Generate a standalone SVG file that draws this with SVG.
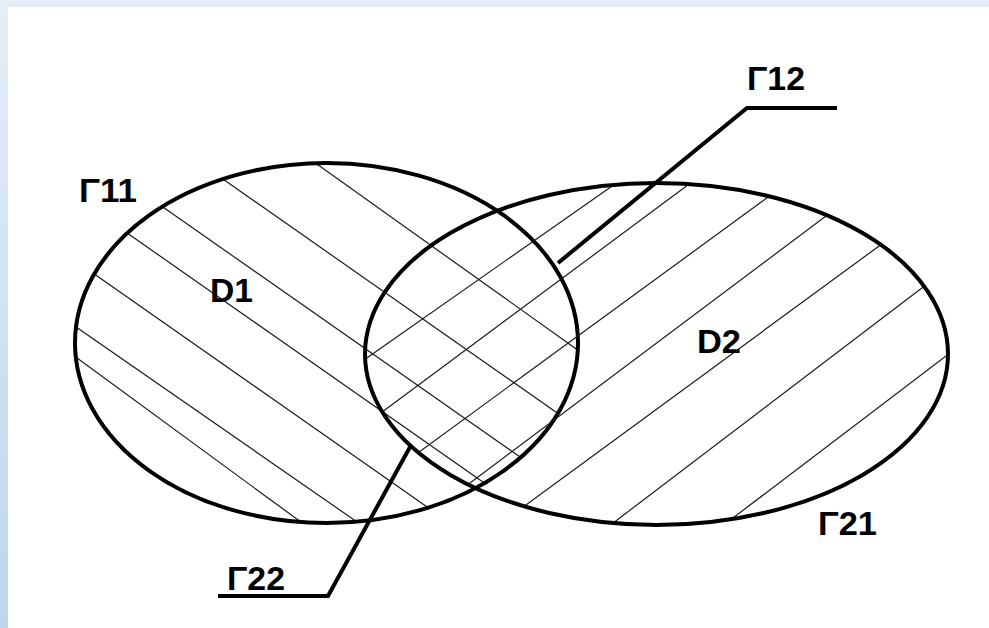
<svg xmlns="http://www.w3.org/2000/svg" width="989" height="628" viewBox="0 0 989 628">
  <defs>
    <linearGradient id="bg" x1="0" y1="0" x2="0" y2="1">
      <stop offset="0" stop-color="#e4eef9"/>
      <stop offset="1" stop-color="#bdd6ee"/>
    </linearGradient>
    <clipPath id="clipL"><ellipse cx="326.5" cy="343" rx="251.5" ry="180"/></clipPath>
    <clipPath id="clipR"><ellipse cx="656.5" cy="354" rx="291.5" ry="171"/></clipPath>
    <style>
      .outline{fill:none;stroke:#000;stroke-width:4}
      .hatch{fill:none;stroke:#1a1a1a;stroke-width:1.2}
      .lead{fill:none;stroke:#000;stroke-width:4;stroke-linejoin:miter}
      .lbl{font-family:"Liberation Sans",Arial,sans-serif;font-weight:bold;font-size:34px;fill:#000}
    </style>
  </defs>
  <rect x="0" y="0" width="989" height="628" fill="url(#bg)"/>
  <rect x="8" y="7" width="981" height="621" fill="#fff"/>

  <g id="D1">
    <g class="hatch" clip-path="url(#clipL)">
      <line x1="300" y1="152" x2="600" y2="366"/>
      <line x1="200" y1="163" x2="580" y2="429"/>
      <line x1="140" y1="191" x2="540" y2="471"/>
      <line x1="100" y1="214" x2="500" y2="494"/>
      <line x1="70" y1="257" x2="450" y2="523"/>
      <line x1="66" y1="320" x2="360" y2="524"/>
      <line x1="66" y1="350" x2="305" y2="525"/>
    </g>
    <ellipse class="outline" cx="326.5" cy="343" rx="251.5" ry="180"/>
    <text class="lbl" x="210" y="302" textLength="43" lengthAdjust="spacingAndGlyphs">D1</text>
  </g>

  <g id="D2">
    <g class="hatch" clip-path="url(#clipR)">
      <line x1="354" y1="367" x2="625" y2="177"/>
      <line x1="370" y1="421" x2="700" y2="176"/>
      <line x1="400" y1="466" x2="775" y2="192"/>
      <line x1="450" y1="498" x2="834" y2="210"/>
      <line x1="515" y1="513" x2="890" y2="238"/>
      <line x1="600" y1="533" x2="935" y2="278"/>
      <line x1="725" y1="524" x2="958" y2="347"/>
    </g>
    <ellipse class="outline" cx="656.5" cy="354" rx="291.5" ry="171"/>
    <text class="lbl" x="697" y="353" textLength="44" lengthAdjust="spacingAndGlyphs">D2</text>
  </g>

  <g id="connectors">
    <polyline class="lead" points="558,263 747,108 837,108"/>
    <polyline class="lead" points="218,596 328,596 410,447"/>
  </g>

  <g id="G11"><text class="lbl" x="79" y="202" textLength="58" lengthAdjust="spacingAndGlyphs">Γ11</text></g>
  <g id="G12"><text class="lbl" x="747" y="90" textLength="58" lengthAdjust="spacingAndGlyphs">Γ12</text></g>
  <g id="G21"><text class="lbl" x="818" y="535" textLength="59" lengthAdjust="spacingAndGlyphs">Γ21</text></g>
  <g id="G22"><text class="lbl" x="227" y="590" textLength="58" lengthAdjust="spacingAndGlyphs">Γ22</text></g>
</svg>
